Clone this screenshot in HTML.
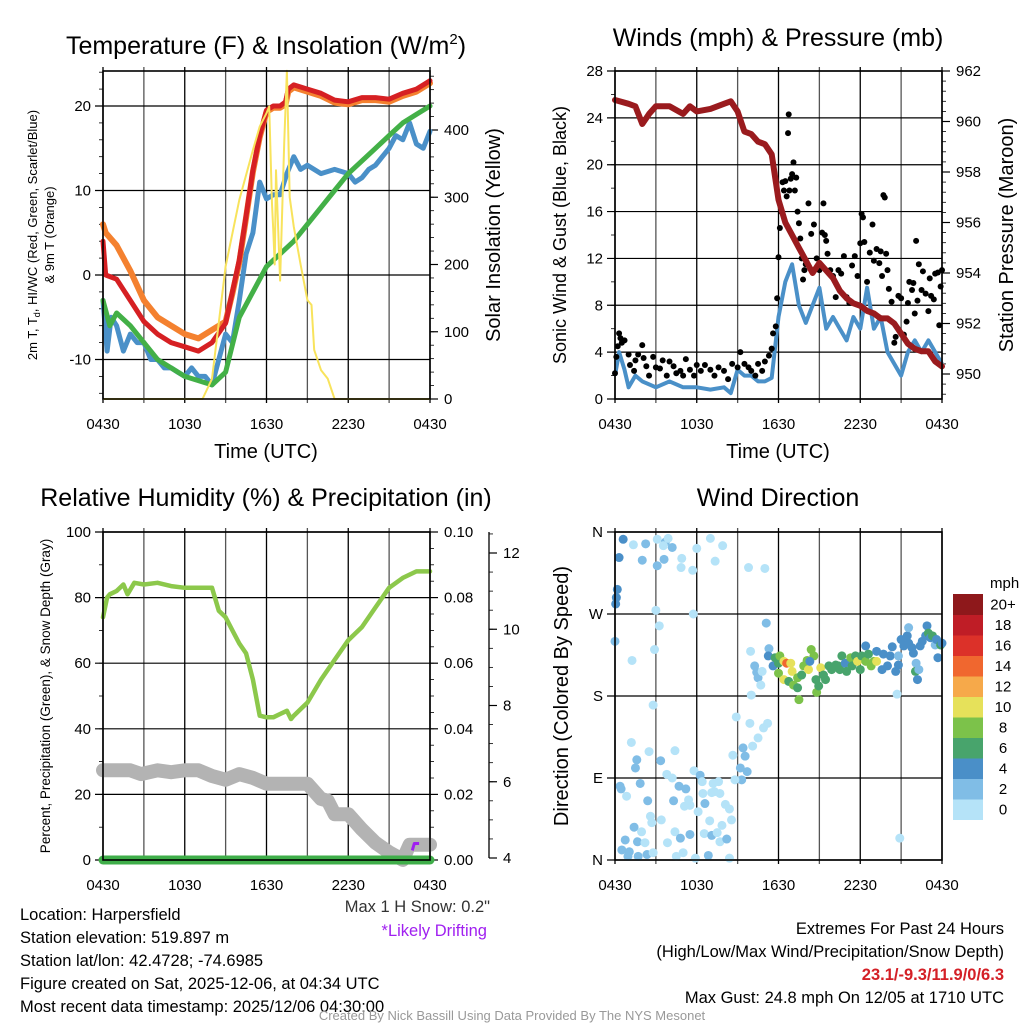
<!DOCTYPE html>
<html><head><meta charset="utf-8"><title>Mesonet Meteogram</title>
<style>
html,body{margin:0;padding:0;background:#fff;}
svg{display:block;font-family:"Liberation Sans",Arial,sans-serif;}
</style></head>
<body>
<svg id="fig" width="1024" height="1024" viewBox="0 0 1024 1024" xmlns="http://www.w3.org/2000/svg">
<rect x="0" y="0" width="1024" height="1024" fill="#fff"/>
<g id="p1"></g>
<g id="p2"></g>
<g id="p3"></g>
<g id="p4"></g>

<text x="266" y="54" font-size="25" text-anchor="middle">Temperature (F) &amp; Insolation (W/m<tspan font-size="15" dy="-10">2</tspan><tspan dy="10">)</tspan></text>
<text x="778" y="46" font-size="25" text-anchor="middle">Winds (mph) &amp; Pressure (mb)</text>
<text x="266" y="506" font-size="25" text-anchor="middle">Relative Humidity (%) &amp; Precipitation (in)</text>
<text x="778" y="506" font-size="25" text-anchor="middle">Wind Direction</text>

<text x="266" y="458" font-size="20" text-anchor="middle">Time (UTC)</text>
<text x="778" y="458" font-size="20" text-anchor="middle">Time (UTC)</text>

<text transform="translate(37,235) rotate(-90)" font-size="13" text-anchor="middle">2m T, T<tspan font-size="9" dy="3">d</tspan><tspan dy="-3">, HI/WC (Red, Green, Scarlet/Blue)</tspan></text>
<text transform="translate(54,235) rotate(-90)" font-size="13" text-anchor="middle">&amp; 9m T (Orange)</text>
<text transform="translate(500,235) rotate(-90)" font-size="20" text-anchor="middle">Solar Insolation (Yellow)</text>
<text transform="translate(566,235) rotate(-90)" font-size="18" text-anchor="middle">Sonic Wind &amp; Gust (Blue, Black)</text>
<text transform="translate(1013,235) rotate(-90)" font-size="20" text-anchor="middle">Station Pressure (Maroon)</text>
<text transform="translate(50,696) rotate(-90)" font-size="13.5" text-anchor="middle">Percent, Precipitation (Green), &amp; Snow Depth (Gray)</text>
<text transform="translate(568,696) rotate(-90)" font-size="20" text-anchor="middle">Direction (Colored By Speed)</text>

<g font-size="16.5">
<text x="20" y="920">Location: Harpersfield</text>
<text x="20" y="943">Station elevation: 519.897 m</text>
<text x="20" y="966">Station lat/lon: 42.4728; -74.6985</text>
<text x="20" y="989">Figure created on Sat, 2025-12-06, at 04:34 UTC</text>
<text x="20" y="1012">Most recent data timestamp: 2025/12/06 04:30:00</text>
</g>
<text x="490" y="912" font-size="16.5" text-anchor="end" fill="#333">Max 1 H Snow: 0.2"</text>
<text x="487" y="936" font-size="16.5" text-anchor="end" fill="#a020f0">*Likely Drifting</text>
<g font-size="16.5" text-anchor="end">
<text x="1004" y="934">Extremes For Past 24 Hours</text>
<text x="1004" y="957">(High/Low/Max Wind/Precipitation/Snow Depth)</text>
<text x="1004" y="980" fill="#d42027" font-weight="bold">23.1/-9.3/11.9/0/6.3</text>
<text x="1004" y="1003">Max Gust: 24.8 mph On 12/05 at 1710 UTC</text>
</g>
<text x="512" y="1020" font-size="13" text-anchor="middle" fill="#999">Created By Nick Bassill Using Data Provided By The NYS Mesonet</text>
</svg>

<script>
// ---------- data (hours since 0430 UTC) ----------
const xTickLabels = ["0430","1030","1630","2230","0430"];
const tHours = [0,0.2,1,2,3,4,5,6,7,8,9,9.5,10,10.5,11,11.5,12,12.5,13,13.4,13.6,14,15,16,17,18,19,20,21,22,23,24];
const tempRed = [4,0,-0.5,-3,-5.5,-7,-8,-8.5,-9,-8,-5.7,-2,1.8,7,12.4,16.5,19.5,20,20,20.5,22,22.5,22,21.5,20.7,20.5,21,21,20.8,21.5,22,23];
const tempOrange = [6,5,3.5,0.5,-3,-5,-6,-7,-7.5,-6.5,-5.5,-2.2,1.5,6.8,12.2,16.3,19.3,19.8,19.8,20.2,21.7,22.2,21.7,21.2,20.4,20.2,20.7,20.7,20.5,21.2,21.7,22.7];
const dewHours = [0,0.5,1,2,3,4,5,6,7,8,9,10,11,12,13,14,15,16,17,18,19,20,21,22,23,24];
const dewGreen = [-3,-6,-4.5,-6,-8,-10,-11,-12,-12.5,-13,-11.5,-5,-2,1,2.5,4,6,8,10,12,13.5,15,16.5,18,19,20];
const wcHours = [0,0.3,0.6,1,1.5,2,2.5,3,3.5,4,4.5,5,5.5,6,6.5,7,7.5,8,8.5,9,9.5,10,10.5,11,11.5,12,12.5,13,13.5,14,14.5,15,16,17,18,18.5,19,19.5,20,20.5,21,21.5,22,22.5,23,23.5,24];
const wcBlue = [-3,-9,-5,-6,-9,-7,-8,-8,-10,-10,-11,-11,-11.5,-12,-11,-12,-12,-13,-10,-7,-8,-3,2.5,5,11,9,9.5,9.5,12,14,12.5,13,12,12.5,12,11,11.5,12.5,13,14,15,16.5,16,18,15.5,15,17];
const solHours = [0,7.3,8,9,10,11,11.5,12,12.2,12.4,12.5,12.6,12.7,13,13.3,13.5,13.7,14,14.5,15,15.3,15.5,16,16.5,17,24];
const solar = [0,0,30,197,296,370,405,425,435,290,250,200,340,176,380,488,300,256,200,147,140,73,43,30,0,0];

const pHours = [0,1,1.5,2,2.5,3,4,5,5.5,6,7,8,8.5,9,9.5,10,10.5,11,11.5,12,12.5,13,13.5,14,14.5,15,15.5,16,16.5,17,17.5,18,18.5,19,19.5,20,20.5,21,21.5,22,22.5,23,23.5,24];
const pressure = [960.85,960.7,960.6,959.9,960.3,960.6,960.6,960.3,960.6,960.4,960.5,960.7,960.8,960.4,959.6,959.5,959.2,959.1,958.7,956.9,956.0,955.5,955.0,954.5,954.0,954.4,954.1,953.8,953.3,953.0,952.8,952.7,952.5,952.4,952.2,952.2,952.0,951.6,951.2,951.0,950.9,950.9,950.5,950.3];
const wHours = [0,0.3,0.7,1,1.5,2,3,4,5,6,7,8,8.5,9,9.5,10,10.5,11,11.5,12,12.5,13,13.5,14,14.5,15,15.5,16,16.5,17,17.5,18,18.5,19,19.5,20,20.5,21,21.5,22,22.5,23,23.5,24];
const windSpeed = [2,4,2.5,1,2,1.5,1,1.5,1,1,0.8,1,0.5,2.5,2,2,1.5,1.5,1.8,7,10,11.5,8,6.5,8,9.5,6,7,6,5,7,6,9.5,6,7,4,3,2,4,5,4,5,4,3];
const gustHours = [0,0.1,0.2,0.3,0.4,0.5,0.7,1,1.1,1.4,1.5,1.7,2,2.1,2.3,2.5,2.8,3,3.3,3.5,3.8,4,4.3,4.5,4.8,5,5.2,5.5,5.8,6,6.3,6.6,7,7.3,7.6,8,8.3,8.6,9,9.2,9.5,9.8,10,10.3,10.5,10.8,11,11.3,11.5,11.6,11.8,11.9,12,12.1,12.2,12.3,12.4,12.5,12.6,12.7,12.75,12.8,12.9,13,13.1,13.2,13.3,13.4,13.5,13.6,13.7,13.8,13.9,14,14.2,14.4,14.6,14.8,15,15.2,15.3,15.4,15.5,15.6,15.8,16,16.2,16.4,16.6,16.8,17,17.2,17.4,17.6,17.8,18,18.1,18.2,18.3,18.5,18.7,18.9,19,19.2,19.4,19.5,19.6,19.7,19.8,19.9,20,20.1,20.3,20.5,20.6,20.8,21,21.2,21.4,21.5,21.6,21.8,21.9,22,22.1,22.2,22.3,22.5,22.6,22.8,23,23.1,23.2,23.4,23.5,23.7,23.8,23.9,24];
const gusts = [2.2,3.6,4.5,5.6,5.2,4.8,5,3.8,2.9,2.4,3.3,3.8,4.6,3.5,2.8,2,3.6,2.7,2.6,3.3,2,3.2,2.8,2.2,2.4,2,3.4,2.5,2,2.9,2.4,2.9,2.5,2,2.7,2.4,1.7,3,2.7,4,3,2.7,2.4,2,3,2.4,3.2,3.7,4.3,5.6,6.2,8.6,12.1,14.6,16,18.5,17.8,18.6,17.3,22.7,24.3,17.8,18.8,19.2,20.2,17.8,18.9,16,15,13.7,12,10.2,11,11.5,16.7,14.1,14.9,12,11,14.2,16.7,14,13.5,12.4,11,10.5,8.7,11,10.7,12.2,8.7,8.2,11.4,12.2,10.5,13.3,15.8,15.5,13.4,10,12.5,14.9,11.8,12.8,11.6,12.6,10.5,17.4,17.2,12.4,11,9.4,8.3,4.8,5.3,8.8,8.6,5.5,6.6,8.2,10,9.3,9.9,7.3,13.5,8.4,11.5,9.3,10.9,9,7.5,10.3,8.8,8.5,10.7,10.8,6.3,9.6,11];

const rhHours = [0,0.3,0.5,1,1.5,1.8,2.3,3,4,5,6,7,8,8.5,9,9.5,10,10.5,11,11.5,12,12.5,13,13.5,13.8,14,14.5,15,16,17,18,19,20,21,22,23,24];
const rh = [74,80,81,82,84,81,84.5,84,84.5,83.5,83,83,83,76,74,70,66,63,55,44,43.5,43.5,44.5,45.5,43,44,46,48,55,61,67,71,77,83,86,88,88];
const snowHours = [0,2,2.8,4,5,6,7,8,9,10,11,12,15,16,16.5,17,18,19,20,21,22,22.5,23,24];
const snowDepth = [6.3,6.3,6.2,6.3,6.25,6.3,6.3,6.15,6.05,6.2,6.1,5.95,5.95,5.55,5.5,5.15,5.15,4.75,4.4,4.15,3.95,4.35,4.35,4.35];
const precipHours = [0,24];
const precip = [0,0];
const driftHours = [22.7,22.85,23.2];
const driftDepth = [4.2,4.38,4.38];

const dirHours = [0.6,0.3,0.17,0.1,0.05,0,1.35,2.25,2.0,3.1,3.7,3.9,3.55,4.2,3.1,3.6,4.9,4.85,6,5.7,7.0,7.35,7.9,9.8,11.0,3.0,5.75,3.25,2.9,1.25,2.8,11.1,9.95,10.25,10.4,10.5,10.7,10.8,10.0,8.9,9.9,11.2,10.9,10.5,10.1,9.4,9.55,8.65,9.2,9.7,9.3,8.8,1.2,1.6,1.5,2.5,3.35,4.4,3.8,4.2,4.7,5.2,5.8,6.25,6.4,7.2,7.6,6.45,7.1,7.7,7.3,6.6,5.5,5.1,4.3,5.4,8.1,8.4,6.1,0.37,0.45,1.85,0.85,2.4,2.6,2.7,3.4,1.4,1.95,4.4,4.8,5.5,0.75,1.65,2.2,3.85,6.95,7.85,6.55,7.1,7.5,7.7,8.2,8.55,0.5,1.05,0.95,1.7,2.35,2.8,4.5,5.0,5.9,6.85,8.4,20.9,20.7,
 11.3,11.25,11.6,11.75,12.0,12.1,12.0,12.4,12.6,12.9,12.4,13.0,12.75,13.1,13.4,13.5,13.4,13.7,13.85,14.2,14.1,14.4,14.6,14.3,14.75,14.8,14.95,15.1,15.3,15.45,15.7,15.9,16.2,16.4,16.5,16.65,16.9,17.0,17.3,17.4,17.65,17.8,18.0,18.1,18.4,18.4,18.6,18.8,19.0,19.2,19.2,19.6,19.7,20.0,20.2,20.35,20.6,20.8,20.8,21.0,21.2,21.45,21.55,21.55,21.8,21.9,22.1,22.05,22.2,22.3,22.4,22.55,22.8,22.9,23.0,23.15,23.3,23.5,23.6,23.7,23.9,24.0];
const dirDeg = [352,332,297,288,281,240,346,347,329,352,349,353,345,343,323,330,331,321,342,318,353,328,345,321,320,274,270,257,231,219,170,260,229,213,206,200,192,207,181,157,150,150,145,134,125,123,114,115,101,97,88,88,129,110,101,119,109,120,94,90,81,78,98,93,86,84,86,73,74,73,75,62,60,59,65,66,61,56,53,81,78,84,70,65,48,41,44,36,31,31,24,28,22,20,19,19,43,38,29,27,30,20,23,44,11,9,4,4,6,8,4,8,2,5,2,24,182,
 232,224,213,222,216,224,205,218,216,216,198,207,196,192,189,176,200,203,213,209,219,231,224,218,198,184,191,211,203,198,213,209,214,213,209,224,216,207,222,213,224,218,209,224,235,218,226,213,218,229,218,209,226,213,224,234,207,214,224,242,235,246,238,255,233,227,216,207,198,209,235,240,246,257,249,244,246,236,242,222,236,238];
const dirSpeed = [3,3,3,3,3,1,0,2,2,0,2,0,0,2,2,2,0,0,0,0,0,0,0,0,0,0,0,0,0,0,0,2,0,2,2,2,0,0,0,0,0,0,0,0,0,2,2,0,2,2,2,0,0,2,2,0,2,0,0,0,2,2,0,2,0,0,0,0,0,0,0,2,0,0,2,0,0,0,0,2,2,2,0,2,0,0,0,2,0,0,2,2,2,2,0,0,0,0,0,2,0,0,2,0,2,2,2,2,2,0,0,0,0,2,0,0,0,
 2,4,4,6,6,8,8,10,13,10,10,10,6,8,6,8,8,6,8,10,8,8,8,4,6,8,6,10,6,6,6,6,6,6,6,6,4,6,8,6,6,10,6,6,4,8,6,8,8,4,10,4,4,4,4,4,4,4,2,4,4,4,4,2,4,4,2,6,4,2,4,4,4,4,6,4,6,2,4,4,6,4];
const speedBins = ["0","2","4","6","8","10","12","14","16","18","20+"];
const speedColors = ["#b5e3f8","#80bde6","#4a8fc8","#48a46c","#7cc24a","#e6e15a","#f6a94a","#f0672f","#dc3129","#bf1d26","#8e181b"];
const precipTickLabels = ["0.00","0.02","0.04","0.06","0.08","0.10"];
const dirTickLabels = ["N","E","S","W","N"];

// ---------- helpers ----------
const NS = "http://www.w3.org/2000/svg";
function mk(tag, attrs, parent){ const e=document.createElementNS(NS,tag); for(const k in attrs) e.setAttribute(k,attrs[k]); parent.appendChild(e); return e; }
function lin(d0,d1,r0,r1){ return v => r0 + (v-d0)*(r1-r0)/(d1-d0); }
function pathFrom(xs, ys, fx, fy){ return xs.map((h,i)=>(i?"L":"M")+fx(h).toFixed(1)+","+fy(ys[i]).toFixed(1)).join(""); }

const L1=103,R1=430,L2=615,R2=942,T1=71,B1=399,T2=532,B2=860;

function frame(g, L, R, T, B, name){
  const fx = lin(0,24,L,R);
  for(let h=0; h<=24; h+=3){
    const ln = mk("line",{x1:fx(h),x2:fx(h),y1:T-4,y2:B+4,stroke:(h%6==0)?"#000":"#555","stroke-width":1.3},g);
    
    
  }
  xTickLabels.forEach((lab,i)=>{
    const t = mk("text",{x:fx(i*6),y:B+30,"font-size":15,"text-anchor":"middle"},g);
    t.textContent = lab;
    
    
  });
  return fx;
}
function yAxis(g, L, R, fy, vals, labels, name, minorVals){
  vals.forEach((v,i)=>{
    const y=fy(v);
    const ln = mk("line",{x1:L-8,x2:R,y1:y,y2:y,stroke:"#000","stroke-width":1.2},g);
    
    
    const t = mk("text",{x:L-12,y:y+5,"font-size":15,"text-anchor":"end"},g);
    t.textContent = labels[i];
    
    
  });
  (minorVals||[]).forEach(v=>{ mk("line",{x1:L-4,x2:L,y1:fy(v),y2:fy(v),stroke:"#000","stroke-width":0.8},g); });
}
function rAxis(g, R, fy, vals, labels, name, minorVals, dx){
  vals.forEach((v,i)=>{
    const y=fy(v);
    mk("line",{x1:R,x2:R+8,y1:y,y2:y,stroke:"#000","stroke-width":1.2},g);
    const t = mk("text",{x:R+(dx||14),y:y+5,"font-size":15},g);
    t.textContent = labels[i];
    
    
  });
  (minorVals||[]).forEach(v=>{ mk("line",{x1:R,x2:R+4,y1:fy(v),y2:fy(v),stroke:"#000","stroke-width":0.8},g); });
}
function border(g,L,R,T,B,name){
  const r = mk("rect",{x:L,y:T,width:R-L,height:B-T,fill:"none",stroke:"#000","stroke-width":1.6},g);
  
  
}
function seq(a,b,s){ const o=[]; for(let v=a; v<=b+1e-9; v+=s) o.push(+v.toFixed(4)); return o; }

// ---------- panel 1 ----------
(function(){
  const g=document.getElementById("p1");
  const fx=frame(g,L1,R1,T1,B1,"temperature");
  const fy=lin(0,20,275,106);
  const fs=lin(0,400,399,130);
  yAxis(g,L1,R1,fy,[-10,0,10,20],["-10","0","10","20"],"temperature-y",seq(-14,24,2));
  rAxis(g,R1,fs,[0,100,200,300,400],["0","100","200","300","400"],"insolation-y",seq(0,480,20));
  const defs=[[wcHours,wcBlue,"#4a90c8",5,"wind-chill-line"],[dewHours,dewGreen,"#43b047",5,"dewpoint-line"],[tHours,tempOrange,"#f4812f",6,"temp-9m-line"],[tHours,tempRed,"#d62023",5,"temp-2m-line"]];
  defs.forEach(d=>{
    const p=mk("path",{d:pathFrom(d[0],d[1],fx,fy),fill:"none",stroke:d[2],"stroke-width":d[3],"stroke-linejoin":"round","stroke-linecap":"round"},g);
    
    
  });
  const s=mk("path",{d:pathFrom(solHours,solar,fx,fs),fill:"none",stroke:"#f8e35c","stroke-width":2,"stroke-linejoin":"round"},g);
  
  
  border(g,L1,R1,T1,B1,"temperature");
})();

// ---------- panel 2 ----------
(function(){
  const g=document.getElementById("p2");
  const fx=frame(g,L2,R2,T1,B1,"wind");
  const fy=lin(0,28,399,71);
  const fp=lin(950,962,374,71);
  yAxis(g,L2,R2,fy,[0,4,8,12,16,20,24,28],["0","4","8","12","16","20","24","28"],"wind-y",seq(0,28,2));
  rAxis(g,R2,fp,[950,952,954,956,958,960,962],["950","952","954","956","958","960","962"],"pressure-y",seq(949.2,962,0.4));
  const w=mk("path",{d:pathFrom(wHours,windSpeed,fx,fy),fill:"none",stroke:"#4a90c8","stroke-width":4,"stroke-linejoin":"round"},g);
  
  
  gustHours.forEach((h,i)=>{
    const c=mk("circle",{cx:fx(h),cy:fy(gusts[i]),r:3,fill:"#000"},g);
    
    
  });
  const p=mk("path",{d:pathFrom(pHours,pressure,fx,fp),fill:"none",stroke:"#9a1b1e","stroke-width":6,"stroke-linejoin":"round","stroke-linecap":"round"},g);
  
  
  border(g,L2,R2,T1,B1,"wind");
})();

// ---------- panel 3 ----------
(function(){
  const g=document.getElementById("p3");
  const fx=frame(g,L1,R1,T2,B2,"humidity");
  const fy=lin(0,100,860,532);
  const fpr=lin(0,0.1,860,532);
  const fsn=lin(4,12,858,553);
  yAxis(g,L1,R1,fy,[0,20,40,60,80,100],["0","20","40","60","80","100"],"humidity-y",seq(0,100,10));
  rAxis(g,R1,fpr,[0,0.02,0.04,0.06,0.08,0.1],precipTickLabels,"precip-y",seq(0,0.1,0.005));
  const ax=mk("line",{x1:489,x2:489,y1:532,y2:858,stroke:"#000","stroke-width":1.3},g);
  
  
  [4,6,8,10,12].forEach(v=>{
    mk("line",{x1:489,x2:497,y1:fsn(v),y2:fsn(v),stroke:"#000","stroke-width":1.2},g);
    const t=mk("text",{x:503,y:fsn(v)+5,"font-size":15},g);
    t.textContent=String(v);
    
    
  });
  seq(4,12.5,0.5).forEach(v=>{ if(fsn(v)>=532) mk("line",{x1:489,x2:493,y1:fsn(v),y2:fsn(v),stroke:"#000","stroke-width":0.8},g); });
  const sn=mk("path",{d:pathFrom(snowHours,snowDepth,fx,fsn),fill:"none",stroke:"#b3b3b3","stroke-width":14,"stroke-linejoin":"round","stroke-linecap":"round"},g);
  
  
  const dr=mk("path",{d:pathFrom(driftHours,driftDepth,fx,fsn),fill:"none",stroke:"#a020f0","stroke-width":3,"stroke-linejoin":"round"},g);
  
  
  const pr=mk("path",{d:pathFrom(precipHours,precip,fx,fpr),fill:"none",stroke:"#3fae49","stroke-width":9,"stroke-linecap":"round"},g);
  
  
  const r=mk("path",{d:pathFrom(rhHours,rh,fx,fy),fill:"none",stroke:"#8cc84b","stroke-width":4.5,"stroke-linejoin":"round","stroke-linecap":"round"},g);
  
  
  border(g,L1,R1,T2,B2,"humidity");
})();

// ---------- panel 4 ----------
(function(){
  const g=document.getElementById("p4");
  const fx=frame(g,L2,R2,T2,B2,"direction");
  const fy=lin(0,360,860,532);
  yAxis(g,L2,R2,fy,[0,90,180,270,360],dirTickLabels,"direction-y",[]);
  dirHours.forEach((h,i)=>{
    const bin=Math.min(10,Math.max(0,Math.round(dirSpeed[i]/2)));
    const c=mk("circle",{cx:fx(h),cy:fy(dirDeg[i]),r:4.5,fill:speedColors[bin]},g);
    
    
  });
  border(g,L2,R2,T2,B2,"direction");
  const cb=mk("g",{},g);
  
  
  const top=594, hgt=20.5;
  speedBins.forEach((lab,i)=>{
    const y=top+(10-i)*hgt;
    const r=mk("rect",{x:953,y:y,width:30,height:hgt+0.5,fill:speedColors[i]},cb);
    
    
    const t=mk("text",{x:1003,y:y+hgt/2+5,"font-size":15,"text-anchor":"middle"},cb);
    t.textContent=lab;
    
    
  });
  const u=mk("text",{x:990,y:588,"font-size":15},cb);
  u.textContent="mph";
  
  
})();
</script>
</body></html>
